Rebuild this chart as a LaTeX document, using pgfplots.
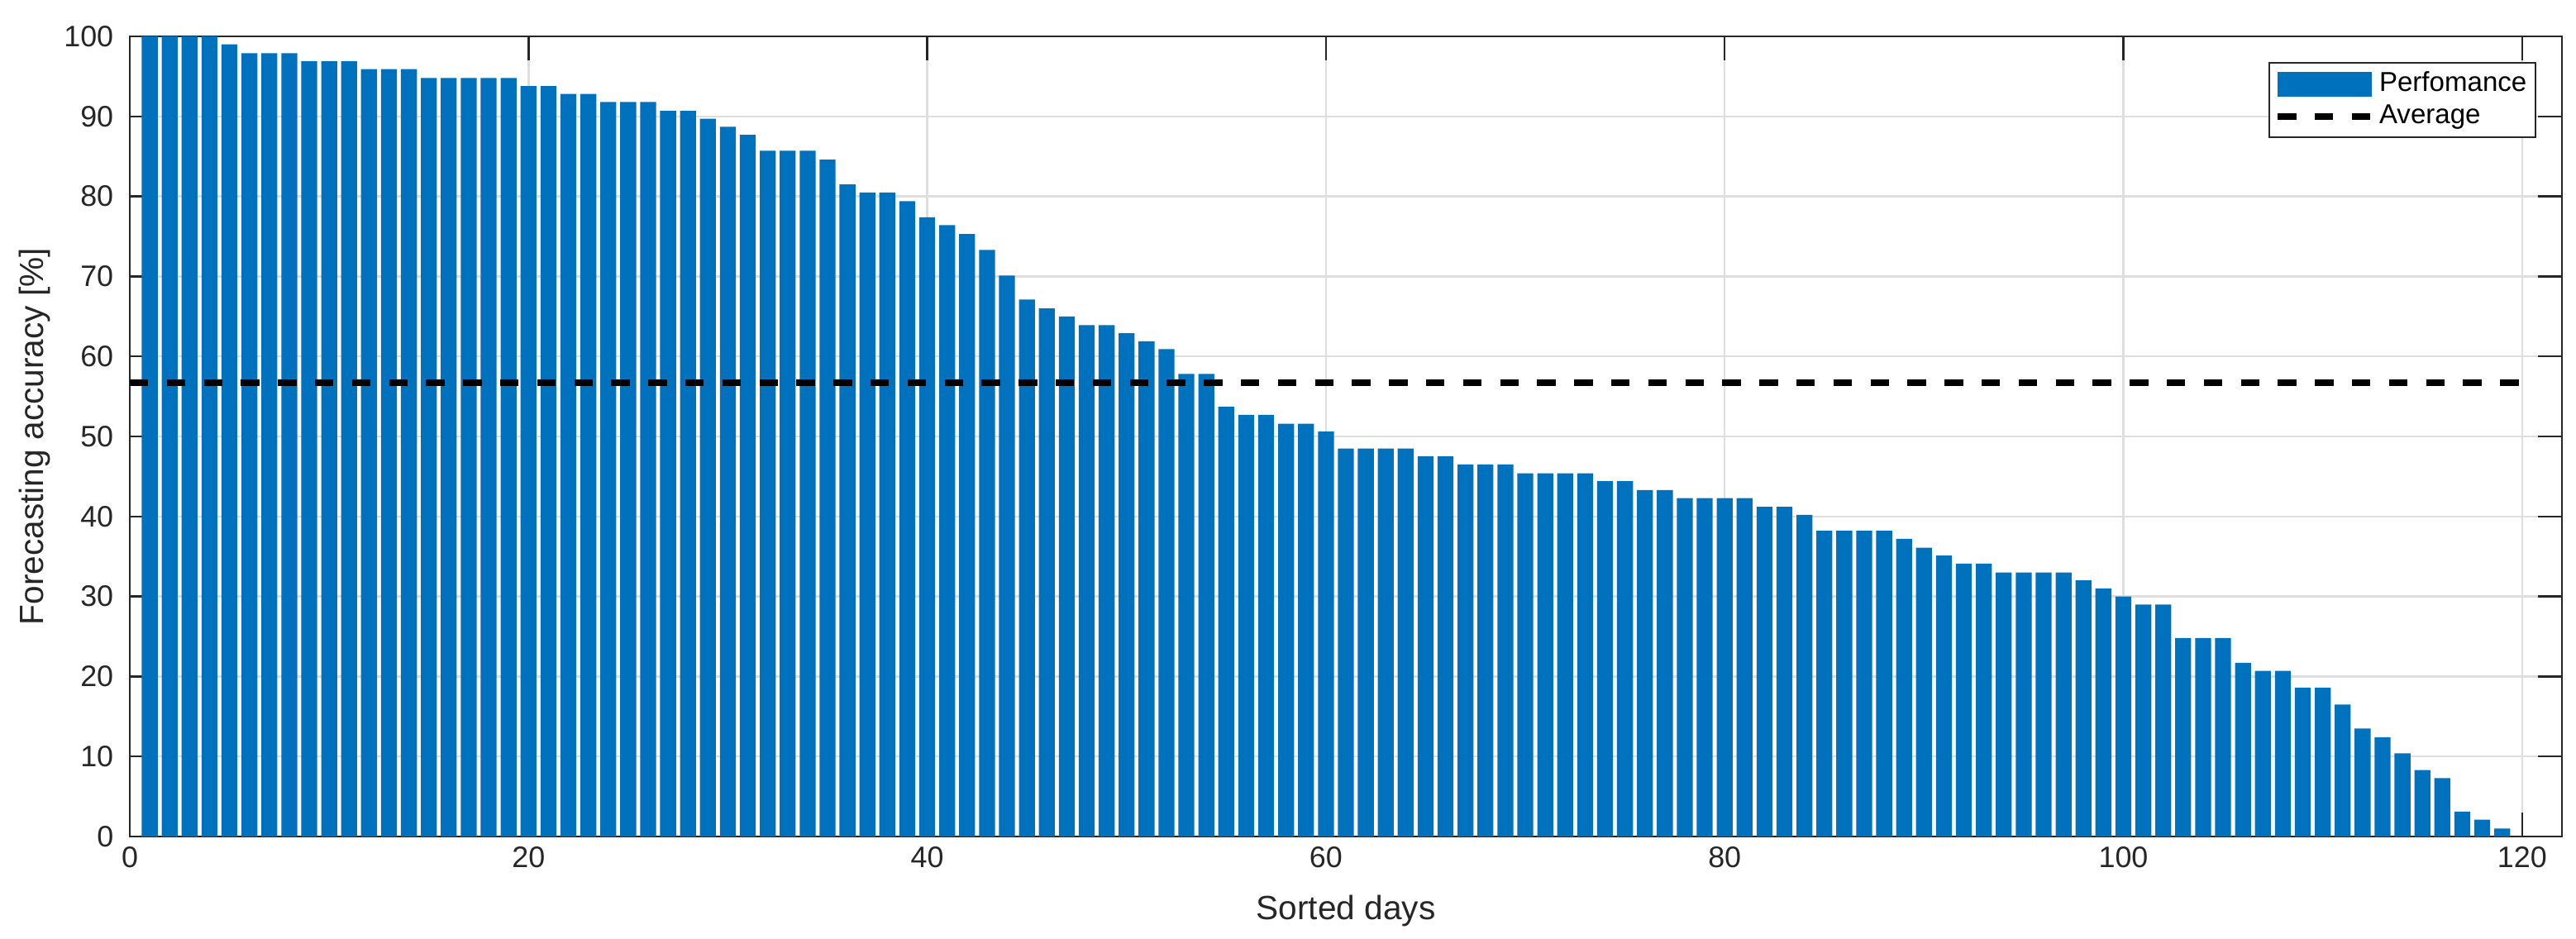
\documentclass[border=0pt]{standalone}
\usepackage{fontspec}
\setmainfont{Liberation Sans}
\usepackage{pgfplots}
\pgfplotsset{compat=1.18}

\definecolor{matblue}{RGB}{0,114,189}
\definecolor{axgray}{RGB}{38,38,38}
\definecolor{gridgray}{RGB}{222,222,222}

\begin{document}
\begin{tikzpicture}
\begin{axis}[
  at={(39.25bp,31bp)}, anchor=south west,
  width=735.5bp, height=242bp, scale only axis,
  xmin=0, xmax=122, ymin=0, ymax=100,
  xtick={0,20,...,120}, ytick={0,10,...,100},
  xtick pos=both, ytick pos=both,
  tick align=inside,
  major tick length=7.25bp,
  every tick/.style={axgray, line width=0.6bp},
  axis line style={axgray, line width=0.6bp},
  grid=major,
  major grid style={gridgray, line width=0.6bp},
  /pgf/number format/assume math mode=true,
  tick label style={font=\fontsize{9}{10}\selectfont, text=axgray, inner sep=0pt},
  yticklabel style={xshift=-4.75bp},
  xticklabel style={yshift=-3bp},
  label style={font=\fontsize{10.2}{12}\selectfont, text=axgray},
  xlabel={Sorted days},
  ylabel={Forecasting accuracy [\%]},
  xlabel style={at={(axis description cs:0.5,-0.093)}, anchor=center},
  ylabel style={at={(axis description cs:-0.039,0.5)}, anchor=center},
  legend style={at={(rel axis cs:0.9895,0.968)}, anchor=north east,
    draw=axgray, line width=0.5bp, fill=white,
    font=\fontsize{8.3}{9.5}\selectfont, text=black,
    inner xsep=1.5bp, inner ysep=1.5bp, row sep=0bp,
    nodes={inner sep=1.2bp}},
  legend cell align=left,
]
\addplot[ybar, bar width=0.8, fill=matblue, draw=none,
  legend image code/.code={\fill[matblue] (0bp,-3.75bp) rectangle (28.5bp,3.75bp);}]
  table[x=d, y=acc] {
  d acc
  1 100
  2 100
  3 100
  4 100
  5 99.0
  6 97.9
  7 97.9
  8 97.9
  9 96.9
  10 96.9
  11 96.9
  12 95.9
  13 95.9
  14 95.9
  15 94.8
  16 94.8
  17 94.8
  18 94.8
  19 94.8
  20 93.8
  21 93.8
  22 92.8
  23 92.8
  24 91.8
  25 91.8
  26 91.8
  27 90.7
  28 90.7
  29 89.7
  30 88.7
  31 87.7
  32 85.7
  33 85.7
  34 85.7
  35 84.6
  36 81.5
  37 80.5
  38 80.5
  39 79.4
  40 77.4
  41 76.4
  42 75.3
  43 73.3
  44 70.1
  45 67.1
  46 66.0
  47 65.0
  48 63.9
  49 63.9
  50 62.9
  51 61.9
  52 60.9
  53 57.8
  54 57.8
  55 53.7
  56 52.7
  57 52.7
  58 51.6
  59 51.6
  60 50.6
  61 48.5
  62 48.5
  63 48.5
  64 48.5
  65 47.5
  66 47.5
  67 46.5
  68 46.5
  69 46.5
  70 45.4
  71 45.4
  72 45.4
  73 45.4
  74 44.4
  75 44.4
  76 43.3
  77 43.3
  78 42.3
  79 42.3
  80 42.3
  81 42.3
  82 41.2
  83 41.2
  84 40.2
  85 38.2
  86 38.2
  87 38.2
  88 38.2
  89 37.2
  90 36.1
  91 35.1
  92 34.1
  93 34.1
  94 33.0
  95 33.0
  96 33.0
  97 33.0
  98 32.0
  99 31.0
  100 30.0
  101 29.0
  102 29.0
  103 24.8
  104 24.8
  105 24.8
  106 21.7
  107 20.7
  108 20.7
  109 18.6
  110 18.6
  111 16.5
  112 13.5
  113 12.4
  114 10.4
  115 8.3
  116 7.3
  117 3.1
  118 2.1
  119 1.0
  };
\addlegendentry{Perfomance}
\addplot[black, line width=2bp, dash pattern=on 5.6bp off 5.6bp,
  legend image code/.code={\draw[black, line width=2bp, dash pattern=on 5.6bp off 5.6bp] (0bp,0bp) -- (28.5bp,0bp);}]
  coordinates {(0,56.7) (120,56.7)};
\addlegendentry{Average}
\end{axis}
\pgfresetboundingbox
\path (0,0) rectangle (779bp,284bp);
\end{tikzpicture}
\end{document}
